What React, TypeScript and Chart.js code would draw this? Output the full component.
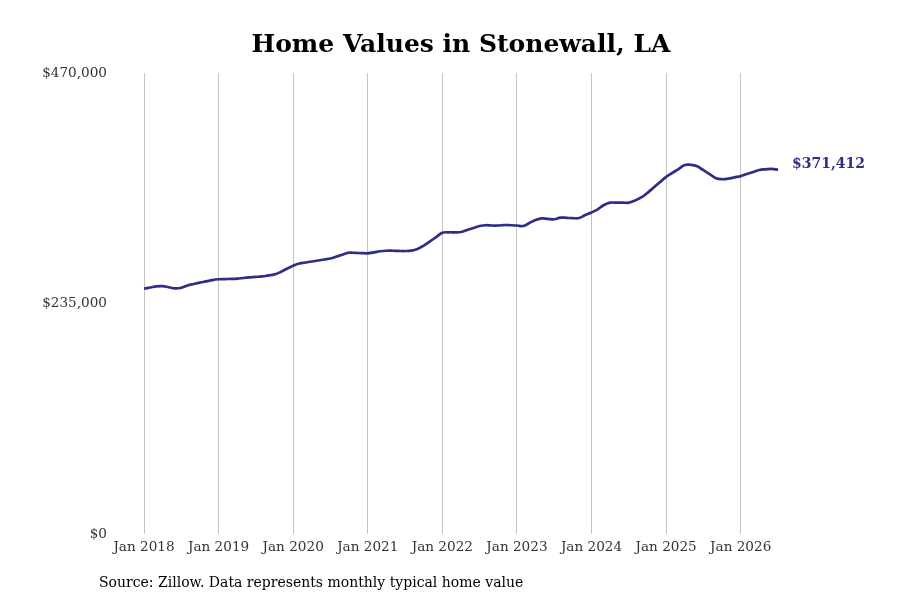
import React, { useEffect, useRef } from 'react';
import { Chart, registerables } from 'chart.js';

Chart.register(...registerables);

const TITLE = 'Home Values in Stonewall, LA';
const SOURCE = 'Source: Zillow. Data represents monthly typical home value';
const LAST_LABEL = '$371,412';

const MONTHS = ['Jan', 'Feb', 'Mar', 'Apr', 'May', 'Jun', 'Jul', 'Aug', 'Sep', 'Oct', 'Nov', 'Dec'];
const YEARS = [2018, 2019, 2020, 2021, 2022, 2023, 2024, 2025, 2026];

// monthly typical home value, Jan 2018 .. Jul 2026
const homeValues = [
    250200, 251300, 252500, 252700, 251600, 250500, 251100, 253400, 254900, 256300, 257500, 258900,
    259700, 259900, 260100, 260400, 261000, 261600, 262100, 262600, 263600, 264700, 267200, 270400,
    273500, 275800, 276800, 277800, 278800, 279900, 280900, 282900, 285000, 286800, 286600, 286400,
    286200, 287100, 288300, 288800, 288800, 288600, 288500, 288900, 290600, 294000, 298300, 302700,
    307100, 307600, 307600, 307900, 309900, 312000, 314000, 314800, 314500, 314500, 315000, 314800,
    314500, 314000, 317100, 320100, 321800, 321200, 320900, 322500, 322300, 322000, 322200, 325200,
    327800, 331000, 335400, 337800, 337800, 337800, 337800, 340000, 343100, 347800, 353300, 358700,
    364100, 368100, 372100, 376200, 376400, 374900, 370900, 367000, 362700, 361700, 362300, 363600,
    364900, 367000, 369100, 371100, 371800, 372200, 371412,
];

const categories: string[] = [];
YEARS.forEach((y) => MONTHS.forEach((m) => categories.push(`${m} ${y}`)));
categories.length = homeValues.length;

const yTicks = [0, 235000, 470000];

const LINE_COLOR = '#2e2d88';
const SERIF = "'DejaVu Serif', serif";

const App: React.FC = () => {
    const chartRef = useRef<HTMLCanvasElement>(null);
    const chartInstanceRef = useRef<Chart | null>(null);

    useEffect(() => {
        document.body.style.margin = '0';
        if (!chartRef.current) return;
        const ctx = chartRef.current.getContext('2d');
        if (!ctx) return;
        if (chartInstanceRef.current) chartInstanceRef.current.destroy();

        const textPlugin = {
            id: 'textPlugin',
            afterDraw(chart: Chart) {
                const c = chart.ctx;
                const area = chart.chartArea;
                c.save();
                // title
                c.fillStyle = '#000';
                c.font = `bold 25px ${SERIF}`;
                c.textAlign = 'center';
                c.textBaseline = 'middle';
                c.fillText(TITLE, (area.left + area.right) / 2, 45);
                // source
                c.font = `14px ${SERIF}`;
                c.textAlign = 'left';
                c.fillText(SOURCE, 99, 583);
                // end label
                const meta = chart.getDatasetMeta(0);
                const last = meta.data[meta.data.length - 1];
                c.fillStyle = LINE_COLOR;
                c.font = `bold 14px ${SERIF}`;
                c.fillText(LAST_LABEL, last.x + 14, last.y - 5);
                c.restore();
            },
        };

        chartInstanceRef.current = new Chart(ctx, {
            type: 'line',
            data: {
                labels: categories,
                datasets: [
                    {
                        label: 'Home value',
                        data: homeValues,
                        borderColor: LINE_COLOR,
                        borderWidth: 2.7,
                        pointRadius: 0,
                        tension: 0.4,
                        fill: false,
                    },
                ],
            },
            options: {
                responsive: true,
                maintainAspectRatio: false,
                animation: false,
                layout: { padding: { top: 73, right: 122, bottom: 0, left: 0 } },
                plugins: {
                    legend: { display: false },
                    title: { display: false },
                    tooltip: { enabled: false },
                },
                scales: {
                    x: {
                        type: 'category',
                        offset: false,
                        border: { display: false },
                        grid: {
                            drawTicks: false,
                            lineWidth: 1,
                            color: (c: any) =>
                                c.tick && String(categories[c.index]).startsWith('Jan') ? '#c4c4c4' : 'rgba(0,0,0,0)',
                        },
                        ticks: {
                            autoSkip: false,
                            maxRotation: 0,
                            padding: 5,
                            color: '#333',
                            font: { family: SERIF, size: 13.6 },
                            callback: (_v: any, i: number) =>
                                categories[i].startsWith('Jan') ? categories[i] : '',
                        },
                        afterFit: (scale: any) => {
                            scale.height = 66;
                        },
                    },
                    y: {
                        min: 0,
                        max: 470000,
                        border: { display: false },
                        grid: { display: false, drawTicks: false },
                        afterBuildTicks: (scale: any) => {
                            scale.ticks = yTicks.map((v) => ({ value: v }));
                        },
                        ticks: {
                            padding: 37,
                            color: '#333',
                            font: { family: SERIF, size: 13.6 },
                            callback: (v: any) => '$' + Number(v).toLocaleString('en-US'),
                        },
                        afterFit: (scale: any) => {
                            scale.width = 144;
                        },
                    },
                },
            },
            plugins: [textPlugin],
        });

        return () => {
            if (chartInstanceRef.current) {
                chartInstanceRef.current.destroy();
                chartInstanceRef.current = null;
            }
        };
    }, []);

    return (
        <div style={{ width: 900, height: 600, position: 'relative', background: '#fff' }}>
            <canvas ref={chartRef}></canvas>
        </div>
    );
};

export default App;
